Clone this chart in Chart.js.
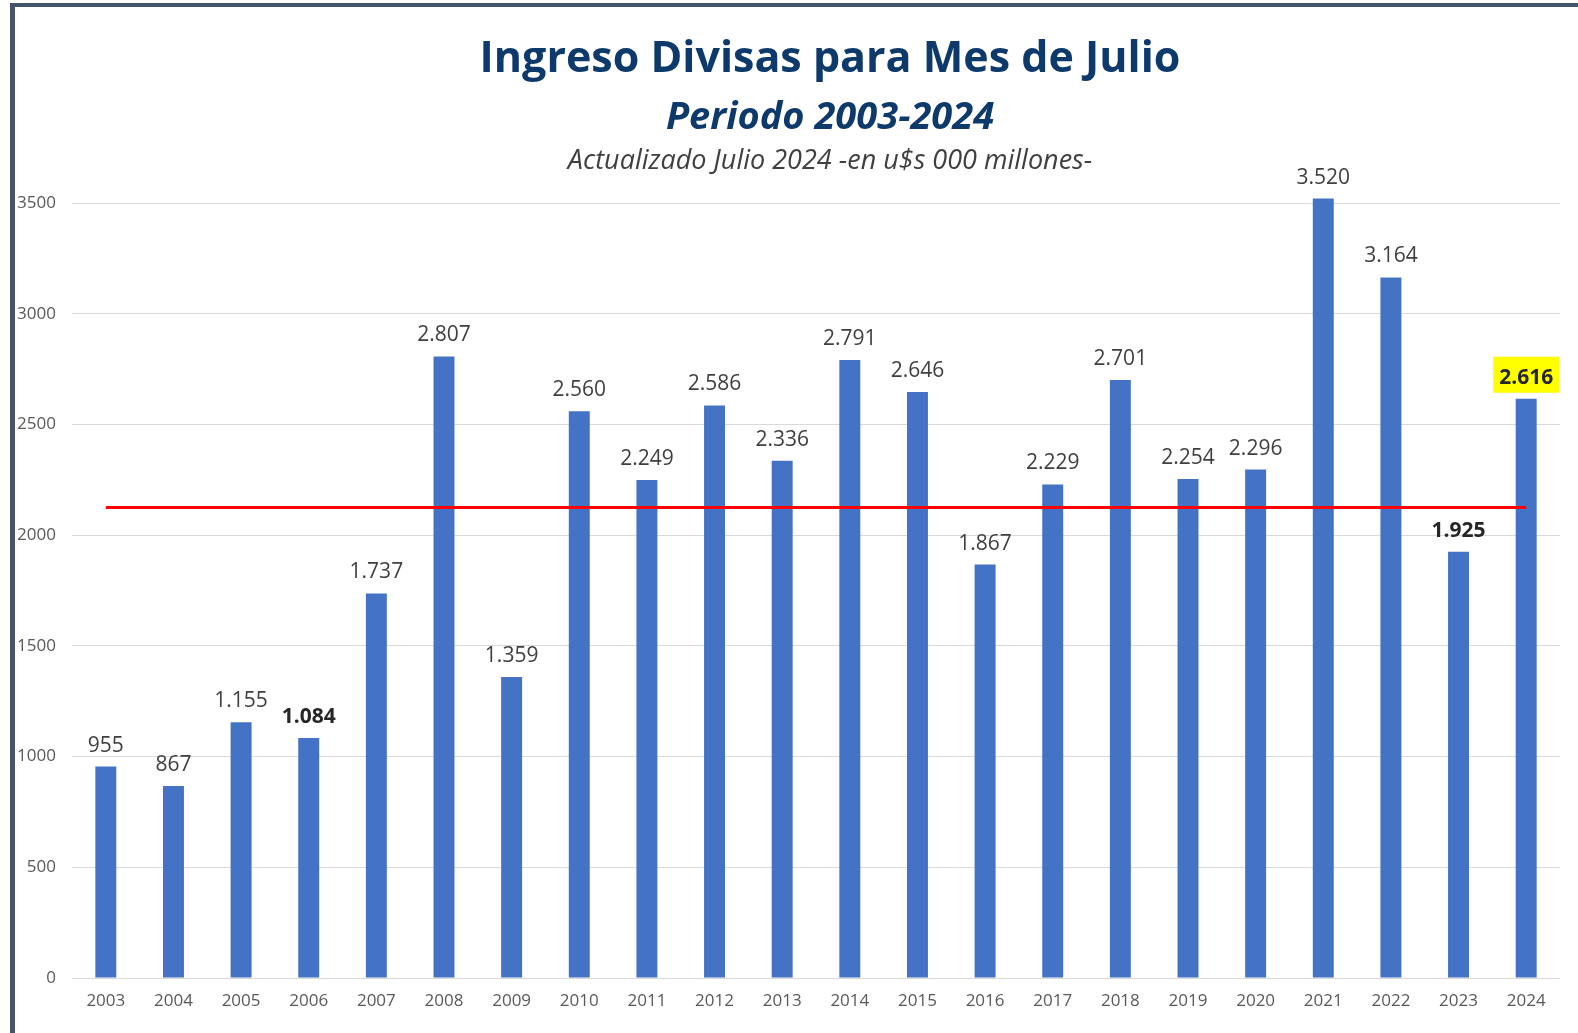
<!DOCTYPE html>
<html lang="es">
<head>
    <meta charset="UTF-8">
    <meta name="viewport" content="width=device-width, initial-scale=1.0">
    <title>Ingreso Divisas para Mes de Julio</title>
    <script src="https://cdn.jsdelivr.net/npm/chart.js"></script>
    <style>
        html, body { margin: 0; padding: 0; background: #fff; overflow: hidden; }
        canvas { display: block; }
    </style>
    <script>
        const years = ['2003', '2004', '2005', '2006', '2007', '2008', '2009', '2010', '2011', '2012', '2013',
                       '2014', '2015', '2016', '2017', '2018', '2019', '2020', '2021', '2022', '2023', '2024'];
        const ingresos = [955, 867, 1155, 1084, 1737, 2807, 1359, 2560, 2249, 2586, 2336,
                          2791, 2646, 1867, 2229, 2701, 2254, 2296, 3520, 3164, 1925, 2616];
        // linea roja (promedio aprox.)
        const promedio = [2125, 2125, 2125, 2125, 2125, 2125, 2125, 2125, 2125, 2125, 2125,
                          2125, 2125, 2125, 2125, 2125, 2125, 2125, 2125, 2125, 2125, 2125];
        const yTicks = [0, 500, 1000, 1500, 2000, 2500, 3000, 3500];
        const boldYears = ['2006', '2023', '2024'];
        const highlightYear = '2024';

        const titleLines = [
            { text: 'Ingreso Divisas para Mes de Julio', font: 'bold 43px "Open Sans"', color: '#0D3A6B', y: 60 },
            { text: 'Periodo 2003-2024', font: 'italic bold 38px "Open Sans"', color: '#0D3A6B', y: 118 },
            { text: 'Actualizado Julio 2024 -en u$s 000 millones-', font: 'italic 27px "Open Sans"', color: '#404040', y: 161 }
        ];

        function fmt(v) {
            return v.toString().replace(/\B(?=(\d{3})+(?!\d))/g, '.');
        }

        const frame = {
            id: 'frame',
            beforeDraw(chart) {
                const ctx = chart.ctx;
                ctx.save();
                ctx.fillStyle = '#fff';
                ctx.fillRect(0, 0, chart.width, chart.height);
                ctx.fillStyle = '#44546A';
                ctx.fillRect(10, 3, chart.width - 10, 4);
                ctx.fillRect(10, 3, 5, chart.height - 3);
                ctx.restore();
            },
            afterDraw(chart) {
                const ctx = chart.ctx;
                ctx.save();
                ctx.textAlign = 'center';
                ctx.textBaseline = 'middle';
                titleLines.forEach(l => {
                    ctx.font = l.font;
                    ctx.fillStyle = l.color;
                    ctx.fillText(l.text, 830, l.y);
                });
                ctx.restore();
            }
        };

        const barLabels = {
            id: 'barLabels',
            afterDatasetsDraw(chart) {
                const ctx = chart.ctx;
                const meta = chart.getDatasetMeta(0);
                ctx.save();
                ctx.textAlign = 'center';
                ctx.textBaseline = 'alphabetic';
                meta.data.forEach((bar, i) => {
                    const year = years[i];
                    const txt = fmt(ingresos[i]);
                    const bold = boldYears.includes(year);
                    ctx.font = (bold ? 'bold ' : '') + '21px "Open Sans"';
                    if (year === highlightYear) {
                        const w = ctx.measureText(txt).width + 12;
                        ctx.fillStyle = '#FFFF00';
                        ctx.fillRect(bar.x - w / 2, bar.y - 42, w, 36);
                    }
                    ctx.fillStyle = bold ? '#262626' : '#404040';
                    ctx.fillText(txt, bar.x, bar.y - 15);
                });
                ctx.restore();
            }
        };

        document.addEventListener('DOMContentLoaded', function() {
            const ctx = document.getElementById('chart').getContext('2d');
            new Chart(ctx, {
                data: {
                    labels: years,
                    datasets: [{
                        type: 'bar',
                        data: ingresos,
                        backgroundColor: '#4472C4',
                        categoryPercentage: 1,
                        barPercentage: 0.31,
                        clip: false,
                        order: 2
                    }, {
                        type: 'line',
                        data: promedio,
                        borderColor: '#FF0000',
                        borderWidth: 3,
                        pointRadius: 0,
                        order: 1
                    }]
                },
                options: {
                    responsive: false,
                    animation: false,
                    layout: { padding: { top: 203, left: 15, right: 18, bottom: 0 } },
                    plugins: {
                        legend: { display: false },
                        tooltip: { enabled: false }
                    },
                    scales: {
                        x: {
                            grid: { display: false, drawTicks: false },
                            border: { display: false },
                            ticks: { color: '#595959', font: { family: 'Open Sans', size: 17 }, padding: 13, maxRotation: 0 },
                            afterFit(scale) { scale.height = 55; }
                        },
                        y: {
                            min: 0,
                            max: 3500,
                            afterBuildTicks(scale) { scale.ticks = yTicks.map(v => ({ value: v })); },
                            grid: { color: '#D9D9D9', lineWidth: 1, drawTicks: false },
                            border: { display: false },
                            ticks: {
                                color: '#595959',
                                font: { family: 'Open Sans', size: 17 },
                                padding: 16,
                                callback: v => String(v)
                            },
                            afterFit(scale) { scale.width = 57; }
                        }
                    }
                },
                plugins: [frame, barLabels]
            });
        });
    </script>
</head>
<body>
    <canvas id="chart" width="1578" height="1033"></canvas>
</body>
</html>
